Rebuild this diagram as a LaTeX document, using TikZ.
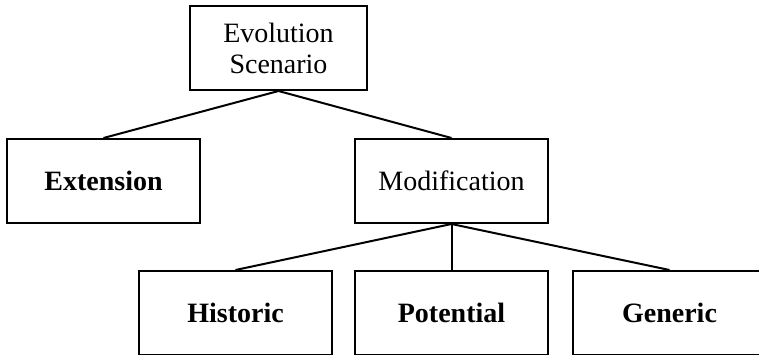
\documentclass[tikz,border=0pt]{standalone}
\usepackage{fontspec}
\setmainfont{Liberation Serif}

\begin{document}
\begin{tikzpicture}[x=1pt,y=-1pt,
    box/.style={draw,line width=2pt,minimum width=193pt,minimum height=84pt,
                inner sep=0pt,align=center,font=\fontsize{28}{31}\selectfont},
    link/.style={line width=2pt}]
    \useasboundingbox (0,0) rectangle (759,355);

    %root
    \node[box,minimum width=177pt] (scen) at (278.5,48) {Evolution\\Scenario};

    %second level
    \node[box] (ext) at (103.5,181) {\textbf{Extension}};
    \node[box] (mod) at (451.5,181) {Modification};

    %leaves
    \node[box] (hist) at (235.5,313) {\textbf{Historic}};
    \node[box] (pot) at (451.5,313) {\textbf{Potential}};
    \node[box] (gen) at (669.5,313) {\textbf{Generic}};

    %links
    \draw[link] (scen.south) -- (ext.north);
    \draw[link] (scen.south) -- (mod.north);
    \draw[link] (mod.south) -- (hist.north);
    \draw[link] (mod.south) -- (pot.north);
    \draw[link] (mod.south) -- (gen.north);

  \end{tikzpicture}
\end{document}
